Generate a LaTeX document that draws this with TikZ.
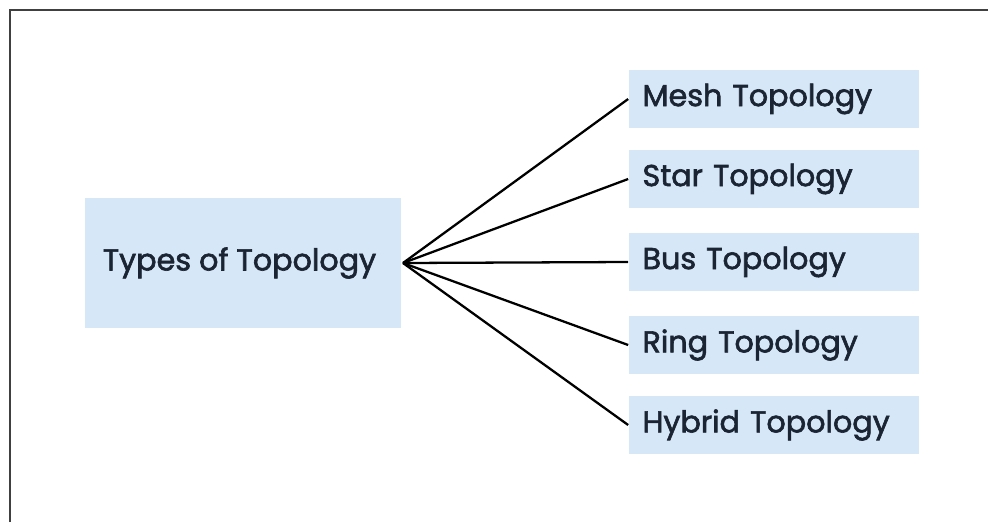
\documentclass[tikz,border=0pt]{standalone}
\usepackage{fontspec}
\setmainfont{Poppins}
\newfontfamily\topofont{Poppins}[FakeBold=2]
\usetikzlibrary{positioning}

\definecolor{boxblue}{HTML}{D6E7F7}
\definecolor{inktext}{HTML}{1A2433}

\tikzset{
    topbox/.style={fill=boxblue, text=inktext, font=\fontsize{17.2}{20}\selectfont\topofont, inner sep=0pt},
    typebox/.style={topbox, minimum width=5.82cm, minimum height=1.16cm, text width=5.26cm, align=left},
    spoke/.style={line width=1.3pt, black}
}

\begin{document}
\begin{tikzpicture}[x=0.02cm, y=-0.02cm]
        \useasboundingbox (0,0) rectangle (988,522);
        \draw[line width=1.2pt, black!75] (10,522) -- (10,10) -- (988,10); % frame top and left

        \node[topbox, minimum width=6.32cm, minimum height=2.6cm] (types) at (243,263) {\hspace*{-0.14cm}Types of Topology};
        \coordinate (hub) at (403,263);

        % the five kinds
        \node[typebox] (mesh) at (774,99) {Mesh Topology};
        \node[typebox] (star) at (774,179) {Star Topology};
        \node[typebox] (bus) at (774,262) {Bus Topology};
        \node[typebox] (ring) at (774,345) {Ring Topology};
        \node[typebox] (hybrid) at (774,425) {Hybrid Topology};

        \foreach \k in {mesh, star, bus, ring, hybrid}
            \draw[spoke] (hub) -- (\k.west);
    \end{tikzpicture}
\end{document}
